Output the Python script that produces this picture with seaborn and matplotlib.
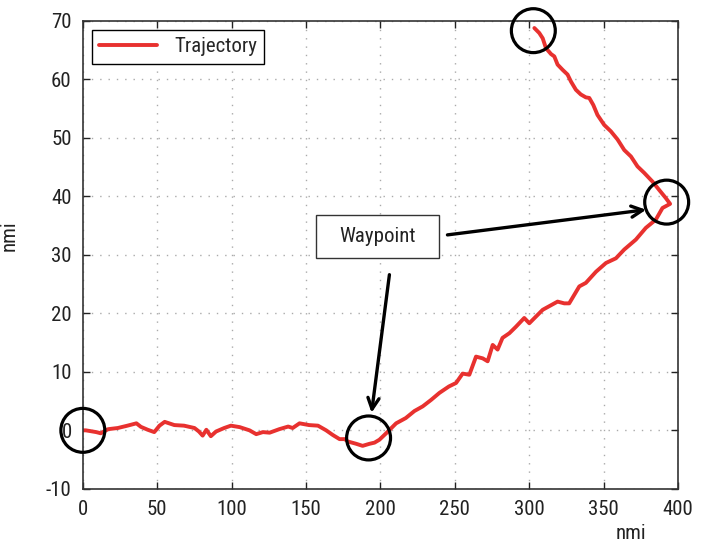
import matplotlib
matplotlib.use("Agg")
import matplotlib.pyplot as plt
import seaborn as sns
import pandas as pd
from matplotlib.patches import Rectangle

# trajectory (nmi), in flight order
traj_x = [0, 2, 9, 12, 17, 23.5, 30, 36, 39, 43.6, 48, 51.5, 55, 61.5, 68, 75, 78, 80.5,
          83, 86, 89.5, 95, 99.5, 105.4, 112, 116.5, 121, 125.5, 132, 138, 141, 145.6, 152,
          158, 163.5, 168, 172.5, 176, 178, 183.7, 188, 192.6, 196, 199.3, 203.8, 210.5, 217,
          222.8, 228.4, 234, 239.6, 246, 250.8, 255.2, 259.7, 264.2, 268.7, 272, 275.4, 278.7,
          282, 286.6, 291, 296.6, 300, 309, 319, 323.5, 326.8, 333.6, 338, 344.8, 351.5,
          358.2, 363.8, 371.6, 378.3, 385, 389.5, 394.6, 391.7, 387.2, 382.8, 377.2, 372.7,
          368.3, 363.8, 359.3, 354.8, 350.3, 345.8, 343, 340.3, 338, 334.6, 331.3, 328,
          325.7, 322.4, 319, 316.8, 314.6, 311.2, 309, 306.7, 303.4]
traj_y = [0, 0, -0.3, -0.5, 0.2, 0.4, 0.8, 1.2, 0.6, 0.1, -0.3, 0.8, 1.45, 0.9, 0.8, 0.4, -0.2, -0.9,
          0.1, -1.0, -0.2, 0.4, 0.8, 0.55, 0, -0.65, -0.3, -0.4, 0.2, 0.65, 0.4, 1.2, 0.9,
          0.8, 0, -0.8, -1.5, -1.5, -1.9, -2.3, -2.65, -2.3, -2.1, -1.6, -0.5, 1.2, 2.1,
          3.3, 4.1, 5.2, 6.4, 7.5, 8.1, 9.7, 9.5, 12.6, 12.3, 11.8, 14.6, 13.8,
          15.8, 16.6, 17.7, 19.2, 18.3, 20.6, 22.0, 21.7, 21.7, 24.6, 25.2, 27.1, 28.6,
          29.4, 30.9, 32.6, 34.6, 36.0, 38.0, 38.7, 39.7, 41.1, 42.5, 44.0, 45.1,
          46.8, 47.9, 49.7, 51.1, 52.2, 53.9, 55.6, 56.8, 56.9, 57.4, 58.2, 59.6,
          60.8, 61.6, 62.5, 63.9, 64.3, 65.3, 67.0, 67.9, 68.75]

# highlighted points (start, waypoint, turn, end)
circle_x = [0, 192, 392.3, 302.7]
circle_y = [0, -1.3, 39.0, 68.3]

x_ticks = list(range(0, 401, 50))
y_ticks = list(range(-10, 71, 10))

df = pd.DataFrame({"x": traj_x, "y": traj_y})

sns.set_style("ticks")
plt.rcParams["font.family"] = ["Roboto Condensed", "Archivo Narrow", "DejaVu Sans"]
plt.rcParams["axes.unicode_minus"] = False

fig = plt.figure(figsize=(7.02, 5.45), dpi=100)
ax = fig.add_axes([0.118, 0.103, 0.848, 0.859])

sns.lineplot(data=df, x="x", y="y", sort=False, estimator=None, ax=ax,
             color="#e8312f", linewidth=2.8, label="Trajectory")

ax.scatter(circle_x, circle_y, s=1000, facecolors="none", edgecolors="black",
           linewidths=2.3, zorder=5, clip_on=False)

ax.set_xlim(0, 400)
ax.set_ylim(-10, 70)
ax.set_xticks(x_ticks)
ax.set_yticks(y_ticks)
ax.grid(True, color="#aaaaaa", linestyle=(0, (1, 5)), linewidth=1.0)
ax.tick_params(direction="in", length=5, width=1, top=True, right=True,
               labelsize=15, colors="#222222", pad=8)
for s in ax.spines.values():
    s.set_color("#333333")
    s.set_linewidth(1.2)

ax.set_xlabel("nmi", fontsize=15, color="#222222")
ax.xaxis.set_label_coords(0.92, -0.075)
ax.set_ylabel("nmi", fontsize=15, color="#222222")
ax.yaxis.set_label_coords(-0.108, 0.54)

leg = ax.legend(loc="upper left", bbox_to_anchor=(0.015, 0.98), borderaxespad=0,
                fontsize=15, fancybox=False, framealpha=1, edgecolor="black",
                handlelength=2.8, borderpad=0.35)
leg.get_frame().set_linewidth(1.0)

# Waypoint label box and arrows
ax.add_patch(Rectangle((157, 29.5), 82.6, 7.3, facecolor="white", edgecolor="#333333",
                       linewidth=1.0, zorder=6))
ax.text(198.3, 33.2, "Waypoint", fontsize=15, ha="center", va="center",
        color="#222222", zorder=7)
arrow = dict(arrowstyle="->,head_length=0.8,head_width=0.4", color="black", lw=2.4,
             shrinkA=0, shrinkB=0)
ax.annotate("", xy=(378.5, 37.7), xytext=(245, 33.4), arrowprops=arrow, zorder=7)
ax.annotate("", xy=(194, 3.0), xytext=(206, 26.6), arrowprops=arrow, zorder=7)

fig.savefig("out.png", dpi=100)
